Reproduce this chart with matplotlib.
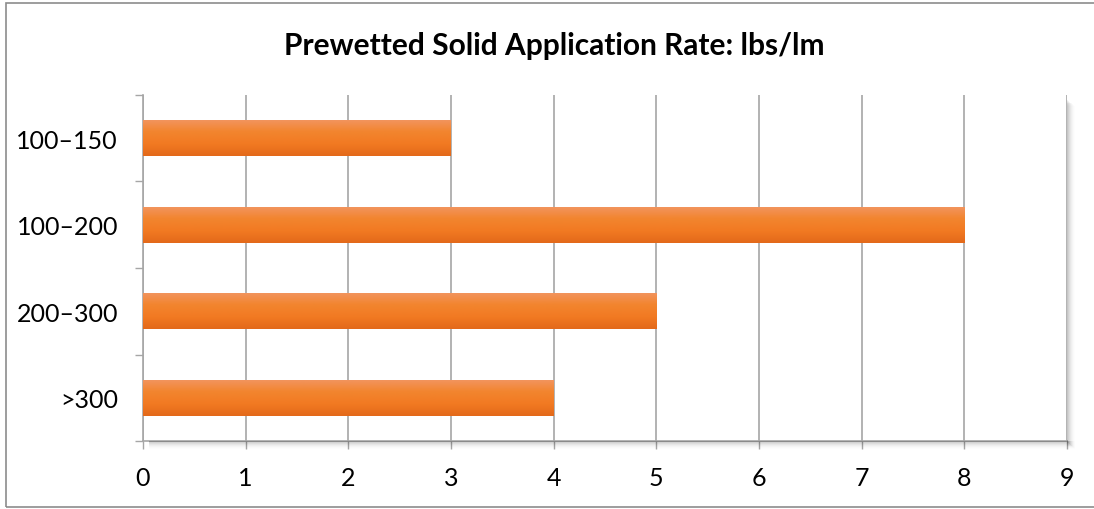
import numpy as np
from matplotlib import pyplot as plt
from matplotlib.patches import Rectangle
from matplotlib.colors import LinearSegmentedColormap

plt.rcParams['font.family'] = ['Lato', 'DejaVu Sans']

# chart data
categories = ['100–150', '100–200', '200–300', '>300']
rates = [3, 8, 5, 4]
x_ticks = list(range(0, 10))
title = 'Prewetted Solid Application Rate: lbs/lm'

grid_grey = '#a6a6a6'
bar_cmap = LinearSegmentedColormap.from_list(
    'bar', ['#f29561', '#f2852f', '#f27a22', '#e3691a'])

fig = plt.figure(figsize=(10.94, 5.10), dpi=100)
ax = fig.add_axes([0.1307, 0.1333, 0.8446, 0.6785])

# soft shadow to the right and below the plot area
for k in range(8):
    a = 0.10 * (1 - k / 8)
    fig.patches.append(Rectangle((0.9753, 0.1333 - (k + 1) / 510 * 0.9),
                                 (k + 1) / 1094, 0.6785 - 4 / 510,
                                 transform=fig.transFigure, color='black',
                                 alpha=a * 0.5, lw=0, zorder=0))
    fig.patches.append(Rectangle((0.1307 + 6 / 1094, 0.1333 - (k + 1) / 510),
                                 0.8446 + (k - 5) / 1094, (k + 1) / 510,
                                 transform=fig.transFigure, color='black',
                                 alpha=a * 0.5, lw=0, zorder=0))

# outer chart border (right edge falls outside the image)
fig.patches.append(Rectangle((6 / 1094, 2 / 510), 1.02, 1 - 6 / 510,
                             transform=fig.transFigure, fill=False,
                             edgecolor='#8c8c8c', lw=1.2, zorder=1))

ypos = np.arange(len(categories))
bars = ax.barh(ypos, rates, height=0.42, color='#f2852f', zorder=3)
grad = np.linspace(0, 1, 100).reshape(-1, 1)
for b in bars:
    im = ax.imshow(grad, cmap=bar_cmap, aspect='auto', zorder=4,
                   extent=[b.get_x(), b.get_x() + b.get_width(),
                           b.get_y() + b.get_height(), b.get_y()])
    im.set_clip_path(b)

ax.set_xlim(0, 9)
ax.set_ylim(len(categories) - 0.5, -0.5)
ax.set_xticks(x_ticks)
ax.set_xticklabels([str(t) for t in x_ticks])
ax.set_yticks(ypos)
ax.set_yticklabels(categories)
ax.set_yticks(np.arange(-0.5, len(categories), 1), minor=True)
ax.tick_params(axis='y', which='major', length=0, pad=18, labelsize=18)
ax.tick_params(axis='y', which='minor', length=6, direction='out',
               color=grid_grey, width=1)
ax.tick_params(axis='x', length=6, direction='out', color=grid_grey,
               width=1, pad=12, labelsize=18)
ax.xaxis.grid(True, color=grid_grey, lw=1.2, zorder=1)
ax.set_axisbelow(True)

for side in ['top', 'right']:
    ax.spines[side].set_visible(False)
for side in ['left', 'bottom']:
    ax.spines[side].set_color(grid_grey)
    ax.spines[side].set_linewidth(1.2)

fig.text(0.507, 0.91, title, ha='center', va='center',
         fontsize=21.5, fontweight='bold')

fig.savefig('out.png', dpi=100)
